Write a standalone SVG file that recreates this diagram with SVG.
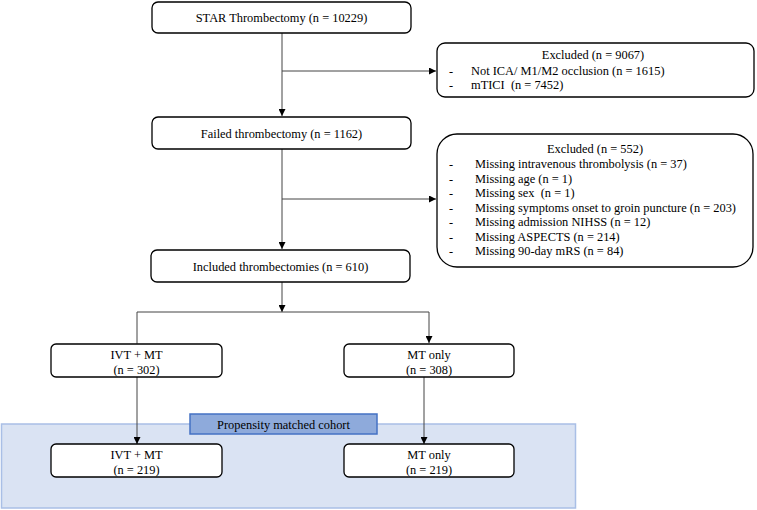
<svg xmlns="http://www.w3.org/2000/svg" width="757" height="510" viewBox="0 0 757 510" font-family="'Liberation Serif', 'Times New Roman', Times, serif" font-size="12.4">
<defs>
<marker id="ah" viewBox="0 0 10 10" refX="10" refY="5" markerWidth="7" markerHeight="7" markerUnits="userSpaceOnUse" orient="auto">
<path d="M0,0 L10,5 L0,10 z" fill="#000"/>
</marker>
</defs>
<style>
.box{fill:#fff;stroke:#000;stroke-width:1.3}
text{fill:#000;white-space:pre}
.c{text-anchor:middle}
.ln{fill:none;stroke:#444;stroke-width:1}
</style>
<g id="cohort-region">
<rect x="1.5" y="424" width="574" height="84" fill="#dae3f3" stroke="#a9bfe6" stroke-width="1.5"/>
</g>
<g id="connectors">
<path class="ln" d="M282,33 V116" marker-end="url(#ah)"/>
<path class="ln" d="M282,71 H436" marker-end="url(#ah)"/>
<path class="ln" d="M282,149 V249" marker-end="url(#ah)"/>
<path class="ln" d="M282,199 H436" marker-end="url(#ah)"/>
<path class="ln" d="M282,282 V312" marker-end="url(#ah)"/>
<path class="ln" d="M137,343 V312 H429 V343" marker-start="url(#ah)" marker-end="url(#ah)"/>
<path class="ln" d="M137,377 V444" marker-end="url(#ah)"/>
<path class="ln" d="M424,377 V444" marker-end="url(#ah)"/>
</g>
<g id="star">
<rect class="box" x="152" y="2" width="259" height="31" rx="6"/>
<text class="c" x="281.5" y="22">STAR Thrombectomy (n = 10229)</text>
</g>
<g id="excluded1">
<rect class="box" x="437" y="43" width="317" height="54" rx="8"/>
<text class="c" x="593" y="59">Excluded (n = 9067)</text>
<text x="449" y="75">-</text>
<text x="471" y="75">Not ICA/ M1/M2 occlusion (n = 1615)</text>
<text x="449" y="89">-</text>
<text x="471" y="89" xml:space="preserve">mTICI  (n = 7452)</text>
</g>
<g id="failed">
<rect class="box" x="152" y="117" width="259" height="32" rx="6"/>
<text class="c" x="281.5" y="137.5">Failed thrombectomy (n = 1162)</text>
</g>
<g id="excluded2">
<rect class="box" x="437" y="134" width="316" height="133" rx="20"/>
<text class="c" x="595" y="152.5">Excluded (n = 552)</text>
<text x="449" y="168">-</text>
<text x="475" y="168">Missing intravenous thrombolysis (n = 37)</text>
<text x="449" y="182.5">-</text>
<text x="475" y="182.5">Missing age (n = 1)</text>
<text x="449" y="197">-</text>
<text x="475" y="197" xml:space="preserve">Missing sex  (n = 1)</text>
<text x="449" y="211.5">-</text>
<text x="475" y="211.5">Missing symptoms onset to groin puncture (n = 203)</text>
<text x="449" y="226">-</text>
<text x="475" y="226">Missing admission NIHSS (n = 12)</text>
<text x="449" y="240.5">-</text>
<text x="475" y="240.5">Missing ASPECTS (n = 214)</text>
<text x="449" y="255">-</text>
<text x="475" y="255">Missing 90-day mRS (n = 84)</text>
</g>
<g id="included">
<rect class="box" x="151" y="250" width="259" height="32" rx="6"/>
<text class="c" x="280.5" y="270.5">Included thrombectomies (n = 610)</text>
</g>
<g id="ivt1">
<rect class="box" x="51" y="344" width="171" height="33" rx="5"/>
<text class="c" x="136.5" y="358.5">IVT + MT</text>
<text class="c" x="136.5" y="373.5">(n = 302)</text>
</g>
<g id="mt1">
<rect class="box" x="344" y="344" width="170" height="33" rx="5"/>
<text class="c" x="429" y="358.5">MT only</text>
<text class="c" x="429" y="373.5">(n = 308)</text>
</g>
<g id="cohort-label">
<rect x="190" y="414" width="187" height="20" fill="#8eaadb" stroke="#4472c4" stroke-width="1.5"/>
<text class="c" x="283.5" y="428.5">Propensity matched cohort</text>
</g>
<g id="ivt2">
<rect class="box" x="51" y="444" width="171" height="33" rx="5"/>
<text class="c" x="136.5" y="458.5">IVT + MT</text>
<text class="c" x="136.5" y="473.5">(n = 219)</text>
</g>
<g id="mt2">
<rect class="box" x="344" y="444" width="170" height="33" rx="5"/>
<text class="c" x="429" y="458.5">MT only</text>
<text class="c" x="429" y="473.5">(n = 219)</text>
</g>
</svg>
